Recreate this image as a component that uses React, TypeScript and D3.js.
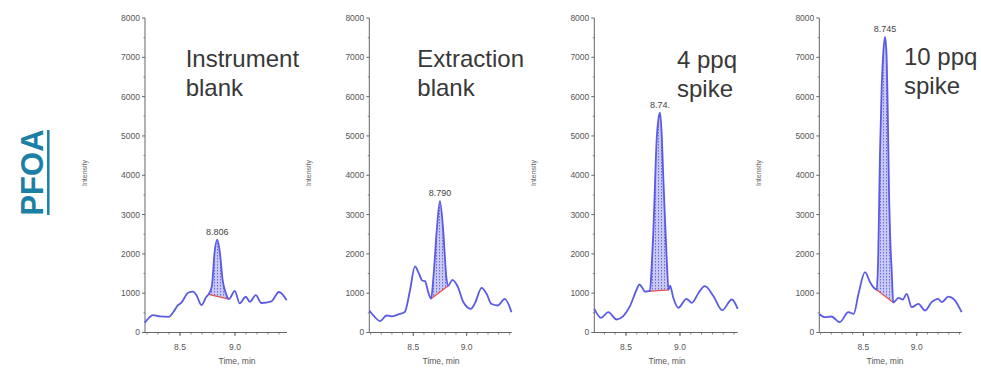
import React from 'react';
import * as d3 from 'd3';

// titles, peak labels and axis ticks
const titles = [['Instrument', 'blank'], ['Extraction', 'blank'], ['4 ppq', 'spike'], ['10 ppq', 'spike']];
const peakLabels = ['8.806', '8.790', '8.74.', '8.745'];
const yTicks = [0, 1000, 2000, 3000, 4000, 5000, 6000, 7000, 8000];
const xTicks = [8.5, 9.0];
const xDomains = [[8.182, 9.473], [8.088, 9.422], [8.207, 9.534], [8.088, 9.421]];

// chromatogram traces (time, min / intensity)
const p1Time = [8.18, 8.22, 8.255, 8.32, 8.4, 8.44, 8.48, 8.513, 8.574, 8.619, 8.65, 8.695, 8.74, 8.76, 8.79, 8.815, 8.839, 8.862, 8.888, 8.918, 8.946, 8.998, 9.043, 9.098, 9.135, 9.189, 9.24, 9.33, 9.4, 9.47];
const p1Int = [250, 380, 440, 410, 400, 520, 690, 760, 1010, 1040, 950, 700, 910, 970, 1180, 2050, 2360, 2050, 1330, 990, 850, 1060, 740, 910, 780, 950, 750, 790, 1030, 820];

const p2Time = [8.088, 8.13, 8.19, 8.25, 8.297, 8.36, 8.42, 8.469, 8.516, 8.547, 8.584, 8.61, 8.64, 8.666, 8.69, 8.72, 8.75, 8.78, 8.81, 8.828, 8.865, 8.916, 8.97, 9.04, 9.08, 9.14, 9.187, 9.23, 9.29, 9.357, 9.42];
const p2Int = [560, 420, 290, 433, 410, 460, 520, 1069, 1680, 1535, 1323, 1306, 1026, 860, 1450, 2600, 3340, 2600, 1400, 1190, 1341, 1170, 771, 603, 760, 1137, 985, 730, 687, 857, 517];

const p3Time = [8.207, 8.27, 8.336, 8.414, 8.475, 8.537, 8.6, 8.623, 8.655, 8.675, 8.722, 8.738, 8.753, 8.769, 8.784, 8.8, 8.815, 8.83, 8.845, 8.86, 8.876, 8.895, 8.908, 8.938, 8.985, 9.06, 9.11, 9.17, 9.23, 9.31, 9.39, 9.48, 9.534];
const p3Int = [603, 374, 517, 331, 415, 669, 1100, 1221, 1120, 1040, 1060, 1687, 2540, 3809, 4910, 5420, 5590, 5081, 3980, 2960, 1940, 1085, 1190, 883, 628, 857, 756, 1000, 1178, 924, 567, 840, 603];

const p4Time = [8.088, 8.14, 8.2, 8.28, 8.36, 8.41, 8.455, 8.516, 8.563, 8.594, 8.625, 8.64, 8.656, 8.672, 8.688, 8.703, 8.716, 8.728, 8.74, 8.755, 8.766, 8.78, 8.83, 8.87, 8.906, 8.953, 9.016, 9.078, 9.14, 9.2, 9.235, 9.297, 9.35, 9.42];
const p4Int = [470, 390, 407, 263, 517, 475, 985, 1535, 1280, 1153, 1086, 2000, 4550, 6240, 7150, 7520, 7150, 5800, 3690, 2170, 1570, 763, 880, 840, 985, 645, 730, 560, 771, 857, 771, 915, 840, 517];

// integration baselines (start/end)
const baseTimes = [[8.76, 8.946], [8.666, 8.828], [8.675, 8.895], [8.625, 8.78]];
const baseInts = [[970, 850], [860, 1190], [1040, 1085], [1086, 763]];

const times = [p1Time, p2Time, p3Time, p4Time];
const ints = [p1Int, p2Int, p3Int, p4Int];

// layout
const W = 981;
const H = 369;
const axisLeft = [145, 369.3, 594.3, 819.3];
const axisRight = [287, 511.7, 737.7, 961.7];
const yTop = 18;
const yBottom = 332.5;
const titlePos = [[185.7, 67, 96], [417.3, 67, 96], [677, 68, 97], [904, 65, 94]];
const timeLabelX = [237, 441, 667, 885];
const font = 'Liberation Sans, Arial, sans-serif';
const axisColor = '#666';
const traceColor = '#5a5ae4';

const Panel = ({ i }: { i: number }) => {
  const x = d3.scaleLinear().domain(xDomains[i]).range([axisLeft[i], axisRight[i]]);
  const y = d3.scaleLinear().domain([0, 8000]).range([yBottom, yTop]);
  const pts = times[i].map((t, k) => [t, ints[i][k]] as [number, number]);

  const line = d3.line<[number, number]>()
    .x((d) => x(d[0]))
    .y((d) => y(d[1]))
    .curve(d3.curveMonotoneX);

  // straight integration baseline, extended, for the filled area
  const [b0, b1] = baseTimes[i];
  const [v0, v1] = baseInts[i];
  const baseAt = (t: number) => v0 + ((t - b0) / (b1 - b0)) * (v1 - v0);
  const area = d3.area<[number, number]>()
    .x((d) => x(d[0]))
    .y0((d) => y(baseAt(d[0])))
    .y1((d) => y(d[1]))
    .curve(d3.curveMonotoneX);

  const apex = pts.reduce((a, b) => (b[1] > a[1] ? b : a));
  const minorX = d3.range(Math.ceil(xDomains[i][0] * 10), Math.floor(xDomains[i][1] * 10) + 1).map((v) => v / 10);
  const minorY = d3.range(500, 8000, 1000);

  return (
    <g>
      <defs>
        <clipPath id={`peak-${i}`}>
          <rect x={x(b0)} y={0} width={x(b1) - x(b0)} height={H} />
        </clipPath>
      </defs>

      {/* y axis */}
      <line x1={axisLeft[i]} x2={axisLeft[i]} y1={yTop} y2={yBottom} stroke={axisColor} strokeWidth={1} />
      {yTicks.map((t) => (
        <g key={t}>
          <line x1={axisLeft[i] - 3} x2={axisLeft[i]} y1={y(t)} y2={y(t)} stroke={axisColor} />
          <text x={axisLeft[i] - 5} y={y(t)} dy="0.35em" textAnchor="end" fontSize={8.5} fill="#555" fontFamily={font}>
            {t}
          </text>
        </g>
      ))}
      {minorY.map((t) => (
        <line key={t} x1={axisLeft[i] - 1.5} x2={axisLeft[i]} y1={y(t)} y2={y(t)} stroke={axisColor} strokeWidth={0.8} />
      ))}

      {/* x axis */}
      <line x1={axisLeft[i]} x2={axisRight[i]} y1={yBottom} y2={yBottom} stroke={axisColor} strokeWidth={1} />
      {minorX.map((t) => (
        <line key={t} x1={x(t)} x2={x(t)} y1={yBottom} y2={yBottom + 2} stroke={axisColor} strokeWidth={0.8} />
      ))}
      {xTicks.map((t) => (
        <g key={t}>
          <line x1={x(t)} x2={x(t)} y1={yBottom} y2={yBottom + 3.5} stroke={axisColor} />
          <text x={x(t)} y={yBottom + 17} textAnchor="middle" fontSize={8.5} fill="#555" fontFamily={font}>
            {t.toFixed(1)}
          </text>
        </g>
      ))}

      <text x={timeLabelX[i]} y={364} textAnchor="middle" fontSize={8.5} fill="#555" fontFamily={font}>
        Time, min
      </text>
      <text transform={`translate(${axisLeft[i] - 58},173) rotate(-90)`} textAnchor="middle" fontSize={7} fill="#666" fontFamily={font}>
        Intensity
      </text>

      {/* integrated peak */}
      <path d={area(pts) ?? ''} fill="url(#hatch)" clipPath={`url(#peak-${i})`} />
      <line x1={x(b0)} y1={y(v0)} x2={x(b1)} y2={y(v1)} stroke="#e8504a" strokeWidth={1.2} />
      <path d={line(pts) ?? ''} fill="none" stroke={traceColor} strokeWidth={1.8} strokeLinejoin="round" />

      <text x={x(apex[0])} y={y(apex[1]) - 5} textAnchor="middle" fontSize={9} fill="#444" fontFamily={font}>
        {peakLabels[i]}
      </text>

      {/* panel title */}
      <text x={titlePos[i][0]} y={titlePos[i][1]} fontSize={24} fill="#383838" fontFamily={font}>
        {titles[i][0]}
      </text>
      <text x={titlePos[i][0]} y={titlePos[i][2]} fontSize={24} fill="#383838" fontFamily={font}>
        {titles[i][1]}
      </text>
    </g>
  );
};

export default function App() {
  return (
    <svg width={W} height={H} style={{ position: 'absolute', left: 0, top: 0, background: '#fff' }}>
      <defs>
        <pattern id="hatch" width={3} height={3} patternUnits="userSpaceOnUse">
          <rect width={3} height={3} fill="#c9c9f5" />
          <rect x={1} y={0} width={1} height={1.5} fill="#6c6cde" />
        </pattern>
      </defs>
      <rect width={W} height={H} fill="#fff" />

      <text transform="translate(43,172.5) rotate(-90)" textAnchor="middle" fontSize={31} fontWeight="bold" fill="#1b7fa6" fontFamily={font}>
        PFOA
      </text>
      <line x1={48.3} x2={48.3} y1={130} y2={215} stroke="#1b7fa6" strokeWidth={2.5} />

      {[0, 1, 2, 3].map((i) => (
        <Panel key={i} i={i} />
      ))}
    </svg>
  );
}
